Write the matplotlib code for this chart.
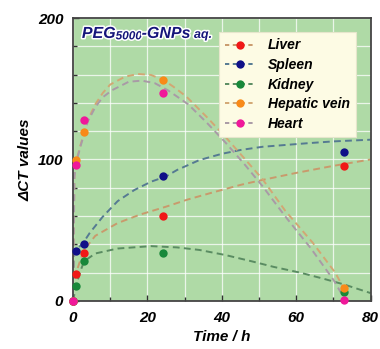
import matplotlib
matplotlib.use("Agg")
import matplotlib.pyplot as plt
import matplotlib.patheffects as pe
from matplotlib.lines import Line2D
from matplotlib.ticker import MultipleLocator

plt.rcParams['font.family'] = ['Liberation Sans', 'DejaVu Sans']

# ---- measured points ----
time_h = [0, 0.8, 2.9, 24.2, 72.8]
liver = [0, 19, 34, 60, 95.5]
spleen = [0, 35.5, 40, 88, 105.5]
kidney = [0, 10.5, 28, 34, 6.5]
hepatic = [0, 99.5, 119.5, 156, 9]
heart = [0, 96, 128, 147, 0.5]

# ---- fitted trend curves ----
liver_fit_t = [0, 0.5, 1, 2, 3, 6, 12, 18, 25, 31, 38, 45, 50, 60, 70, 80]
liver_fit_v = [0, 14, 21, 29, 36, 46, 55, 61, 66.6, 71.8, 77, 82, 85, 90.5, 95.5, 100]
spleen_fit_t = [0, 0.3, 1, 2, 3, 4.5, 8, 12, 16.5, 21, 25, 28, 34, 40, 45, 51, 63, 70, 80]
spleen_fit_v = [0, 33, 36, 39, 42, 48, 59.5, 70.5, 78.4, 84.3, 88, 92.6, 99.6, 104, 106.7, 109, 111.5, 112.8, 114]
kidney_fit_t = [0, 0.5, 1, 2, 3, 6, 12, 21, 28, 34, 41, 48, 54, 61, 67, 73, 80]
kidney_fit_v = [0, 6, 12, 21, 28, 33.5, 37, 38.7, 37.8, 36, 32.4, 28, 24, 20, 15.9, 11.5, 5.5]
hepatic_fit_t = [0, 0.4, 1, 2, 4, 6, 8, 10, 14, 17.5, 21, 24.5, 27, 30.5, 36, 41, 46, 51, 57, 64.5, 70.5, 73]
hepatic_fit_v = [0, 90, 100, 110, 128, 139, 147, 153, 158.6, 160.5, 159.8, 156, 151.5, 144.5, 130, 116, 101, 86, 64, 41, 20, 8]
heart_fit_t = [0, 0.4, 1, 2, 4, 6, 8, 10.5, 15, 18.5, 22, 25.5, 28, 31, 36, 41, 46, 51, 57, 64, 70, 72]
heart_fit_v = [0, 88, 99, 109, 127, 137, 144, 149, 155, 155.8, 154, 149, 144.5, 139, 126, 112, 97, 81, 60, 37, 15, 6]

names = ['Liver', 'Spleen', 'Kidney', 'Hepatic vein', 'Heart']
point_sets = [liver, spleen, kidney, hepatic, heart]
fit_sets = [(liver_fit_t, liver_fit_v), (spleen_fit_t, spleen_fit_v),
            (kidney_fit_t, kidney_fit_v), (hepatic_fit_t, hepatic_fit_v),
            (heart_fit_t, heart_fit_v)]
colors = ['#f01818', '#101088', '#18883a', '#f88a18', '#f0189a']
fit_colors = ['#c99a6c', '#557a92', '#5a8c62', '#d2a774', '#a99aa6']

x_ticks = [0, 20, 40, 60, 80]
y_ticks = [0, 100, 200]

fig = plt.figure(figsize=(3.8, 3.49), dpi=100)
ax = fig.add_axes([0.192, 0.138, 0.783, 0.81])
ax.set_facecolor('#afdaa6')

ax.set_xlim(0, 80)
ax.set_ylim(0, 200)
ax.xaxis.set_minor_locator(MultipleLocator(10))
ax.yaxis.set_minor_locator(MultipleLocator(20))
ax.set_xticks(x_ticks)
ax.set_yticks(y_ticks)
ax.grid(which='both', color='white', linewidth=0.9, alpha=0.75)
ax.set_axisbelow(True)

for (ft, fv), fc in zip(fit_sets, fit_colors):
    ax.plot(ft, fv, color=fc, linewidth=1.4, dashes=(3.5, 2.2), zorder=2)

for vals, c in zip(point_sets, colors):
    ax.plot(time_h, vals, 'o', color=c, markersize=6, markeredgewidth=0,
            zorder=4, clip_on=False)

ax.tick_params(which='both', direction='in', color='#303030', width=1,
               top=False, right=False)
ax.tick_params(which='major', length=4, labelsize=11, pad=7)
ax.tick_params(which='minor', length=3)
for lbl in ax.get_xticklabels() + ax.get_yticklabels():
    lbl.set_fontweight('bold')
    lbl.set_fontstyle('italic')
for s in ax.spines.values():
    s.set_color('#444444')
    s.set_linewidth(1.3)

ax.set_xlabel('Time / h', fontsize=11, fontweight='bold', fontstyle='italic', labelpad=4)
ax.set_ylabel('ΔCT values', fontsize=11, fontweight='bold', fontstyle='italic', labelpad=4)

handles = [Line2D([0], [0], color=fc, linewidth=1.4, dashes=(2.2, 1.8),
                  marker='o', markerfacecolor=c, markeredgewidth=0, markersize=6)
           for c, fc in zip(colors, fit_colors)]
leg = ax.legend(handles, names, loc='upper right', bbox_to_anchor=(0.975, 0.975),
                frameon=True, fancybox=False, facecolor='#fdfbe4', edgecolor='#e6e6cc',
                framealpha=1, handlelength=2.2, labelspacing=0.4, borderpad=0.45,
                handletextpad=0.9, prop={'size': 10, 'weight': 'bold', 'style': 'italic'})
leg.get_frame().set_linewidth(0.8)

stroke = [pe.withStroke(linewidth=2.2, foreground='white')]
t1 = ax.text(0.03, 0.93, 'PEG', transform=ax.transAxes, fontsize=11.5,
             fontweight='bold', fontstyle='italic', color='#15157a',
             path_effects=stroke, va='baseline', zorder=6)
t2 = ax.annotate('5000', xycoords=t1, xy=(1, 0), va='bottom', fontsize=8.5,
                 fontweight='bold', fontstyle='italic', color='#15157a',
                 path_effects=stroke, zorder=6, xytext=(0, -1), textcoords='offset points')
t3 = ax.annotate('-GNPs', xycoords=t2, xy=(1, 0), va='bottom', fontsize=11.5,
                 fontweight='bold', fontstyle='italic', color='#15157a',
                 path_effects=stroke, zorder=6, xytext=(0, 1), textcoords='offset points')
t4 = ax.annotate(' aq.', xycoords=t3, xy=(1, 0), va='bottom', fontsize=9,
                 fontweight='bold', fontstyle='italic', color='#15157a',
                 path_effects=stroke, zorder=6)

fig.savefig('out.png', dpi=100)
